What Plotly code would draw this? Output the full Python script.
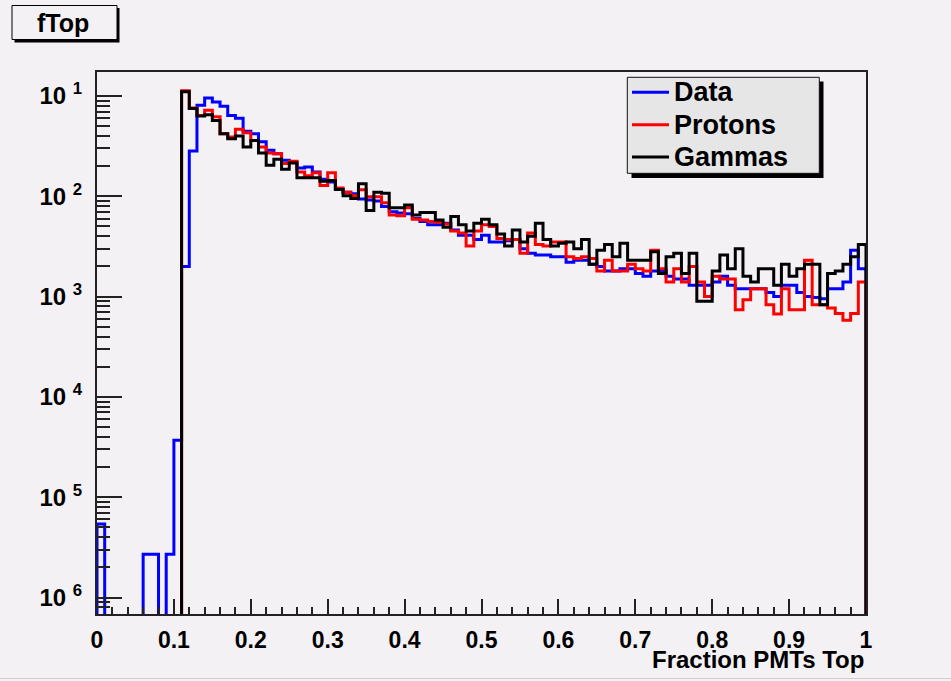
import plotly.graph_objects as go

# ---- histogram definition: 100 bins on [0, 1] ----
x_min = 0.0
bin_width = 0.01
n_bins = 100

# normalised bin contents (fraction of events per bin)
data_vals = [
    5.4e-6, 0, 0, 0, 0, 0, 2.7e-6, 2.7e-6, 0, 2.7e-6,
    3.7e-5, 0.0020, 0.0283, 0.081, 0.0955, 0.087, 0.079, 0.064, 0.060, 0.0444,
    0.042, 0.035, 0.0288, 0.0266, 0.0229, 0.0220, 0.0191, 0.0196, 0.0175, 0.0148,
    0.0139, 0.0117, 0.0110, 0.0106, 0.0094, 0.0092, 0.0090, 0.0079, 0.0070, 0.0068,
    0.0067, 0.0060, 0.0056, 0.0052, 0.0052, 0.0054, 0.0046, 0.0041, 0.0041, 0.0037,
    0.0041, 0.0035, 0.0035, 0.0036, 0.0037, 0.0030, 0.0027, 0.0026, 0.0026, 0.0025,
    0.0025, 0.0022, 0.0023, 0.0023, 0.0021, 0.0020, 0.0018, 0.0018, 0.0019, 0.0019,
    0.0017, 0.0016, 0.0018, 0.0018, 0.0016, 0.0015, 0.0015, 0.0013, 0.0013, 0.0013,
    0.0014, 0.0016, 0.0013, 0.0012, 0.0012, 0.0012, 0.0012, 0.0011, 0.0010, 0.0013,
    0.0013, 0.0011, 0.0010, 0.00098, 0.00095, 0.0012, 0.0012, 0.0014, 0.0029, 0.0019,
]

proton_vals = [
    0, 0, 0, 0, 0, 0, 0, 0, 0, 0,
    0, 0.113, 0.076, 0.064, 0.072, 0.062, 0.042, 0.039, 0.0466, 0.043,
    0.036, 0.031, 0.027, 0.0266, 0.0212, 0.0223, 0.0175, 0.0160, 0.0172, 0.0128,
    0.0172, 0.0121, 0.0110, 0.0102, 0.0116, 0.0099, 0.0099, 0.0086, 0.0065, 0.0064,
    0.0077, 0.0059, 0.0058, 0.0056, 0.0055, 0.0053, 0.0045, 0.0043, 0.0032, 0.0045,
    0.0052, 0.0050, 0.0038, 0.0037, 0.0037, 0.0027, 0.0043, 0.0033, 0.0032, 0.0035,
    0.0035, 0.0025, 0.0024, 0.0025, 0.0024, 0.0018, 0.0023, 0.0018, 0.0018, 0.0021,
    0.0019, 0.0018, 0.0029, 0.0019, 0.0014, 0.0019, 0.0014, 0.0020, 0.0014, 0.0010,
    0.0016, 0.0015, 0.0015, 0.00074, 0.00093, 0.0012, 0.0012, 0.00083, 0.00067, 0.0012,
    0.00074, 0.00074, 0.0023, 0.00083, 0.00083, 0.00077, 0.00068, 0.00058, 0.00068, 0.0014,
]

gamma_vals = [
    0, 0, 0, 0, 0, 0, 0, 0, 0, 0,
    0, 0.110, 0.075, 0.063, 0.065, 0.057, 0.042, 0.0375, 0.040, 0.031,
    0.036, 0.027, 0.0204, 0.0234, 0.0186, 0.0215, 0.0153, 0.0153, 0.0153, 0.0141,
    0.0144, 0.0117, 0.0101, 0.0095, 0.0133, 0.0072, 0.0110, 0.0107, 0.0077, 0.0077,
    0.0082, 0.0065, 0.0069, 0.0069, 0.0058, 0.0049, 0.0063, 0.0052, 0.0045, 0.0054,
    0.0059, 0.0052, 0.0042, 0.0032, 0.0046, 0.0035, 0.0040, 0.0054, 0.0037, 0.0032,
    0.0034, 0.0035, 0.0030, 0.0037, 0.0021, 0.0029, 0.0033, 0.0025, 0.0034, 0.0023,
    0.0023, 0.0023, 0.0028, 0.0017, 0.0025, 0.0027, 0.0017, 0.0027, 0.0009, 0.0009,
    0.0018, 0.0026, 0.0019, 0.0030, 0.0016, 0.0014, 0.0019, 0.0019, 0.0013, 0.0021,
    0.0016, 0.0019, 0.0021, 0.0021, 0.00083, 0.0017, 0.0018, 0.0021, 0.0025, 0.0033,
]

series_names = ["Data", "Protons", "Gammas"]
series_values = [data_vals, proton_vals, gamma_vals]
series_colors = ["#0000ff", "#ff0000", "#000000"]

x_tick_vals = [0, 0.1, 0.2, 0.3, 0.4, 0.5, 0.6, 0.7, 0.8, 0.9, 1.0]
x_tick_text = ["0", "0.1", "0.2", "0.3", "0.4", "0.5", "0.6", "0.7", "0.8", "0.9", "1"]
y_tick_vals = [1e-1, 1e-2, 1e-3, 1e-4, 1e-5, 1e-6]
y_tick_text = ["10 <sup>1</sup>", "10 <sup>2</sup>", "10 <sup>3</sup>",
               "10 <sup>4</sup>", "10 <sup>5</sup>", "10 <sup>6</sup>"]

title_text = "fTop"
x_title = "Fraction PMTs Top"

# ---- canvas geometry (pixels) ----
W, H = 951, 681
L, R, T, B = 97, 866, 72, 614
BG = "#f4f1f5"
FONT = "Liberation Sans, Arial, Helvetica, sans-serif"
Y_RANGE = [-6.164, -0.761]


def px(xp):
    return (xp - L) / (R - L)


def py(yp):
    return (B - yp) / (B - T)


def step_trace(vals, name, color):
    # empty bins fall below the log axis and are clipped at the frame
    floor = 1e-9
    v = [val if val > 0 else floor for val in vals]
    edges = [x_min + i * bin_width for i in range(n_bins)]
    xs = [x_min] + edges + [x_min + n_bins * bin_width] * 2
    ys = [floor] + v + [v[-1], floor]
    return go.Scatter(x=xs, y=ys, mode="lines", name=name,
                      line=dict(color=color, width=3, shape="hv"),
                      hoverinfo="skip")


fig = go.Figure()
for vals, name, color in zip(series_values, series_names, series_colors):
    fig.add_trace(step_trace(vals, name, color))

axis_common = dict(
    showline=True, linecolor="#222222", linewidth=2, mirror=True,
    ticks="inside", tickcolor="#222222", tickwidth=1.5,
    showgrid=False, zeroline=False,
)

fig.update_xaxes(
    range=[0, 1], tickmode="array", tickvals=x_tick_vals, ticktext=x_tick_text,
    ticklen=15, ticklabelstandoff=4,
    tickfont=dict(family=FONT, size=23, color="black", weight="bold"),
    minor=dict(ticks="inside", dtick=0.02, tick0=0, ticklen=7,
               tickcolor="#222222", tickwidth=1.5, showgrid=False),
    **axis_common,
)
fig.update_yaxes(
    type="log", range=Y_RANGE, tickmode="array", tickvals=y_tick_vals,
    ticktext=y_tick_text, ticklen=25, ticklabelstandoff=8,
    tickfont=dict(family=FONT, size=24, color="black", weight="bold"),
    minor=dict(ticks="inside", dtick="D1", ticklen=13,
               tickcolor="#222222", tickwidth=1.5, showgrid=False),
    **axis_common,
)

shapes = []
annotations = []

# title box with drop shadow
shapes.append(dict(type="rect", xref="paper", yref="paper",
                   x0=px(14.5), x1=px(119.5), y0=py(8), y1=py(42.5),
                   fillcolor="black", line=dict(width=0), layer="above"))
shapes.append(dict(type="rect", xref="paper", yref="paper",
                   x0=px(12), x1=px(117), y0=py(5.5), y1=py(39.5),
                   fillcolor=BG, line=dict(color="black", width=1), layer="above"))
annotations.append(dict(text=title_text, xref="paper", yref="paper",
                        x=px(63), y=py(22.5), xanchor="center", yanchor="middle",
                        showarrow=False,
                        font=dict(family=FONT, size=25, color="black", weight="bold")))

# legend box with drop shadow
shapes.append(dict(type="rect", xref="paper", yref="paper",
                   x0=px(631.5), x1=px(823.5), y0=py(81.5), y1=py(178),
                   fillcolor="black", line=dict(width=0), layer="above"))
shapes.append(dict(type="rect", xref="paper", yref="paper",
                   x0=px(627.3), x1=px(819.3), y0=py(77.3), y1=py(173.3),
                   fillcolor="#e6e6e6", line=dict(color="#111111", width=1),
                   layer="above"))
legend_rows = [92.3, 124.8, 157.0]
for row_y, name, color in zip(legend_rows, series_names, series_colors):
    shapes.append(dict(type="line", xref="paper", yref="paper",
                       x0=px(632), x1=px(669), y0=py(row_y), y1=py(row_y),
                       line=dict(color=color, width=3), layer="above"))
    annotations.append(dict(text=name, xref="paper", yref="paper",
                            x=px(672), y=py(row_y), xanchor="left", yanchor="middle",
                            showarrow=False,
                            font=dict(family=FONT, size=27, color="black",
                                      weight="bold")))

# x axis title, right aligned under the frame
annotations.append(dict(text=x_title, xref="paper", yref="paper",
                        x=1.0, y=py(659), xanchor="right", yanchor="middle",
                        showarrow=False,
                        font=dict(family=FONT, size=24, color="black", weight="bold")))

# bottom edge of the canvas
shapes.append(dict(type="line", xref="paper", yref="paper",
                   x0=px(0), x1=px(W), y0=py(678.5), y1=py(678.5),
                   line=dict(color="#cfcfcf", width=1), layer="above"))

fig.update_layout(
    width=W, height=H,
    margin=dict(l=L, r=W - R, t=T, b=H - B, pad=0),
    paper_bgcolor=BG, plot_bgcolor=BG,
    showlegend=False,
    shapes=shapes, annotations=annotations,
    font=dict(family=FONT, color="black"),
)

fig.write_html("out.html")
